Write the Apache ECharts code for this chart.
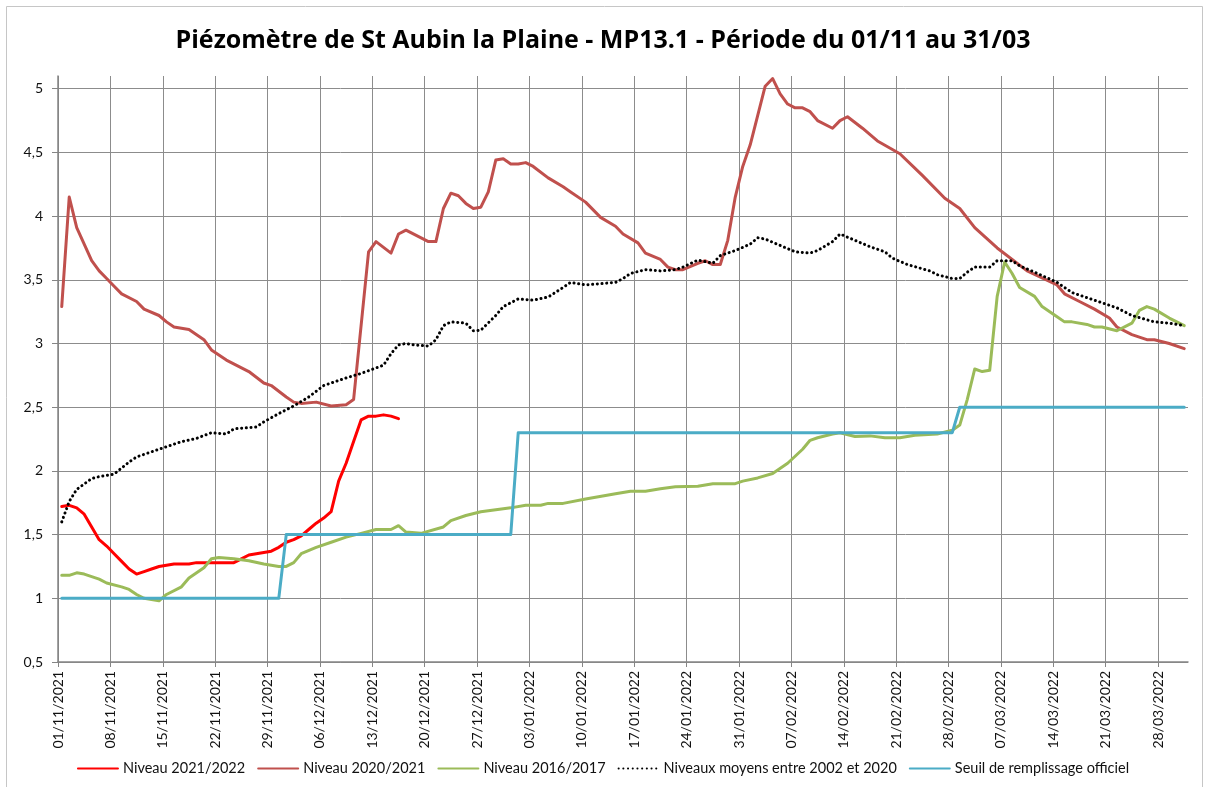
<!DOCTYPE html>
<html>
<head>
<meta charset="utf-8">
<title>Piézomètre de St Aubin la Plaine</title>
<script src="https://cdn.jsdelivr.net/npm/echarts@6.0.0/dist/echarts.min.js"></script>
<style>
  html, body { margin: 0; padding: 0; background: #fff; }
  #chart { width: 1206px; height: 787px; }
</style>
</head>
<body>
<div id="chart"></div>
<script>
// jours comptés depuis le 01/11 (0 = 01/11, 150 = 31/03)
const tickLabels = ['01/11/2021', '08/11/2021', '15/11/2021', '22/11/2021', '29/11/2021', '06/12/2021',
  '13/12/2021', '20/12/2021', '27/12/2021', '03/01/2022', '10/01/2022', '17/01/2022', '24/01/2022',
  '31/01/2022', '07/02/2022', '14/02/2022', '21/02/2022', '28/02/2022', '07/03/2022', '14/03/2022',
  '21/03/2022', '28/03/2022'];

const seriesNames = ['Niveau 2021/2022', 'Niveau 2020/2021', 'Niveau 2016/2017',
  'Niveaux moyens entre 2002 et 2020', 'Seuil de remplissage officiel'];

const days2122 = [0, 1, 2, 3, 4, 5, 6, 7, 8, 9, 10, 11, 12, 13, 14, 15, 17, 18, 23, 24, 25, 26, 27, 28, 29,
  30, 31, 32, 33, 34, 35, 36, 37, 38, 39, 40, 41, 42, 43, 44, 45];
const vals2122 = [1.72, 1.73, 1.71, 1.66, 1.56, 1.46, 1.41, 1.35, 1.29, 1.23, 1.19, 1.21, 1.23, 1.25, 1.26, 1.27,
  1.27, 1.28, 1.28, 1.31, 1.34, 1.35, 1.36, 1.37, 1.40, 1.44, 1.46, 1.49, 1.54, 1.59, 1.63, 1.68, 1.92, 2.06,
  2.23, 2.40, 2.43, 2.43, 2.44, 2.43, 2.41];

const days2021 = [0, 1, 2, 3, 4, 5, 6, 7, 8, 10, 11, 13, 14, 15, 17, 19, 20, 22, 25, 27, 28, 30, 31, 32, 34, 36,
  38, 39, 41, 42, 44, 45, 46, 49, 50, 51, 52, 53, 54, 55, 56, 57, 58, 59, 60, 61, 62, 63, 65, 67, 68, 70, 72,
  74, 75, 77, 78, 80, 81, 82, 83, 85, 86, 87, 88, 89, 90, 91, 92, 94, 95, 96, 97, 98, 99, 100, 101, 103, 104,
  105, 107, 109, 112, 115, 118, 120, 122, 125, 129, 133, 134, 136, 138, 140, 141, 143, 145, 146, 148, 150];
const vals2021 = [3.29, 4.15, 3.91, 3.78, 3.65, 3.57, 3.51, 3.45, 3.39, 3.33, 3.27, 3.22, 3.17, 3.13, 3.11,
  3.03, 2.95, 2.87, 2.78, 2.69, 2.67, 2.58, 2.54, 2.53, 2.54, 2.51, 2.52, 2.56, 3.72, 3.80, 3.71, 3.86, 3.89,
  3.80, 3.80, 4.06, 4.18, 4.16, 4.10, 4.06, 4.07, 4.19, 4.44, 4.45, 4.41, 4.41, 4.42, 4.39, 4.30, 4.23, 4.19,
  4.11, 3.99, 3.92, 3.86, 3.79, 3.71, 3.66, 3.60, 3.58, 3.58, 3.63, 3.65, 3.62, 3.62, 3.81, 4.15, 4.39, 4.56,
  5.02, 5.08, 4.96, 4.88, 4.85, 4.85, 4.82, 4.75, 4.69, 4.75, 4.78, 4.69, 4.59, 4.49, 4.32, 4.14, 4.06, 3.91,
  3.75, 3.57, 3.46, 3.39, 3.33, 3.27, 3.20, 3.13, 3.07, 3.03, 3.03, 3.00, 2.96];

const days1617 = [0, 1, 2, 3, 5, 6, 8, 9, 10, 11, 13, 14, 16, 17, 19, 20, 21, 23, 25, 27, 29, 30, 31, 32, 34,
  36, 38, 40, 42, 44, 45, 46, 48, 51, 52, 54, 56, 60, 62, 64, 65, 67, 70, 74, 76, 78, 80, 82, 85, 87, 90, 91,
  93, 95, 97, 99, 100, 101, 103, 104, 106, 108, 110, 112, 114, 117, 119, 120, 121, 122, 123, 124, 125, 126,
  127, 128, 130, 131, 133, 134, 135, 137, 138, 139, 141, 143, 144, 145, 146, 148, 150];
const vals1617 = [1.18, 1.18, 1.20, 1.19, 1.15, 1.12, 1.09, 1.07, 1.03, 1.00, 0.98, 1.03, 1.09, 1.16, 1.24,
  1.31, 1.32, 1.31, 1.295, 1.27, 1.25, 1.25, 1.28, 1.35, 1.40, 1.44, 1.48, 1.51, 1.54, 1.54, 1.57, 1.52, 1.51,
  1.56, 1.61, 1.65, 1.68, 1.71, 1.73, 1.73, 1.745, 1.745, 1.78, 1.82, 1.84, 1.84, 1.86, 1.875, 1.88, 1.90,
  1.90, 1.92, 1.945, 1.98, 2.06, 2.17, 2.24, 2.26, 2.29, 2.30, 2.27, 2.275, 2.26, 2.26, 2.28, 2.29, 2.32,
  2.36, 2.56, 2.80, 2.78, 2.79, 3.37, 3.64, 3.55, 3.44, 3.37, 3.29, 3.21, 3.17, 3.17, 3.15, 3.13, 3.13, 3.10,
  3.16, 3.26, 3.29, 3.27, 3.20, 3.14];

const daysMoy = [0, 1, 2, 4, 5, 7, 9, 10, 12, 14, 16, 18, 20, 22, 23, 26, 27, 29, 31, 33, 35, 38, 40, 43, 44,
  45, 46, 47, 49, 50, 51, 52, 54, 55, 56, 58, 59, 61, 63, 65, 67, 68, 70, 72, 74, 75, 76, 78, 80, 82, 83, 85,
  87, 88, 90, 92, 93, 94, 96, 98, 100, 101, 103, 104, 106, 108, 110, 111, 113, 116, 117, 119, 120, 121, 122,
  124, 125, 127, 128, 130, 133, 135, 138, 141, 143, 146, 148, 150];
const valsMoy = [1.60, 1.76, 1.855, 1.94, 1.955, 1.975, 2.07, 2.11, 2.15, 2.19, 2.23, 2.255, 2.30, 2.29, 2.33,
  2.345, 2.385, 2.45, 2.51, 2.58, 2.67, 2.73, 2.765, 2.83, 2.92, 2.99, 3.00, 2.99, 2.98, 3.03, 3.14, 3.17,
  3.16, 3.10, 3.105, 3.22, 3.29, 3.35, 3.34, 3.365, 3.44, 3.48, 3.46, 3.47, 3.48, 3.51, 3.55, 3.58, 3.57,
  3.58, 3.60, 3.655, 3.63, 3.69, 3.73, 3.78, 3.83, 3.82, 3.77, 3.72, 3.71, 3.73, 3.80, 3.86, 3.81, 3.76,
  3.72, 3.67, 3.62, 3.57, 3.54, 3.51, 3.51, 3.56, 3.60, 3.60, 3.65, 3.65, 3.61, 3.56, 3.48, 3.40, 3.34,
  3.28, 3.22, 3.17, 3.16, 3.14];

const daysSeuil = [0, 29, 30, 60, 61, 119, 120, 150];
const valsSeuil = [1.0, 1.0, 1.5, 1.5, 2.3, 2.3, 2.5, 2.5];

const colors = ['#FF0000', '#C0504D', '#9BBB59', '#000000', '#4BACC6'];
const FONT = 'Lato, "Open Sans", sans-serif';

// point du jour placé au milieu de sa case (axe "entre les graduations")
const toPairs = (days, vals) => days.map((d, i) => [d + 0.5, vals[i]]);

const chart = echarts.init(document.getElementById('chart'), null, { renderer: 'canvas' });

const lineSeries = (idx, days, vals, extra) => Object.assign({
  name: seriesNames[idx],
  type: 'line',
  data: toPairs(days, vals),
  symbol: 'none',
  smooth: false,
  animation: false,
  lineStyle: { color: colors[idx], width: 3, cap: 'round', join: 'round' },
  itemStyle: { color: colors[idx] }
}, extra || {});

const option = {
  backgroundColor: '#fff',
  animation: false,
  title: {
    text: 'Piézomètre de St Aubin la Plaine - MP13.1 - Période du 01/11 au 31/03',
    left: 'center',
    top: 23,
    textStyle: { fontFamily: '"Open Sans", Lato, sans-serif', fontSize: 25, fontWeight: 'bold', color: '#000' }
  },
  graphic: [{
    type: 'rect',
    shape: { x: 6.5, y: 6.5, width: 1196, height: 800 },
    style: { fill: 'none', stroke: '#c6c6c6', lineWidth: 1 },
    silent: true
  }],
  legend: {
    data: seriesNames,
    left: 'center',
    top: 756,
    itemWidth: 40,
    itemHeight: 14,
    itemGap: 12,
    itemStyle: { opacity: 0 }, // pas de rond au milieu du trait
    textStyle: { fontFamily: FONT, fontSize: 14.5, color: '#111' }
  },
  grid: { left: 58, right: 18, top: 76, bottom: 125, containLabel: false },
  xAxis: {
    type: 'value',
    min: 0,
    max: 151,
    interval: 7,
    axisLine: { show: true, lineStyle: { color: '#858585', width: 1.5 } },
    axisTick: { show: true, length: 5, lineStyle: { color: '#858585' } },
    splitLine: { show: true, showMaxLine: false, lineStyle: { color: '#8c8c8c', width: 1 } },
    axisLabel: {
      rotate: 90,
      margin: 9,
      showMaxLabel: false,
      fontFamily: FONT,
      fontSize: 14,
      color: '#111',
      formatter: (v) => (v % 7 === 0 ? tickLabels[v / 7] || '' : '')
    }
  },
  yAxis: {
    type: 'value',
    min: 0.5,
    max: 5.1,
    interval: 0.5,
    axisLine: { show: true, lineStyle: { color: '#858585', width: 1.5 } },
    axisTick: { show: true, length: 6, lineStyle: { color: '#858585' } },
    splitLine: { show: true, showMaxLine: false, lineStyle: { color: '#8c8c8c', width: 1 } },
    axisLabel: {
      margin: 15,
      showMaxLabel: false,
      fontFamily: FONT,
      fontSize: 14,
      color: '#111',
      formatter: (v) => String(v).replace('.', ',')
    }
  },
  series: [
    lineSeries(0, days2122, vals2122),
    lineSeries(1, days2021, vals2021),
    lineSeries(2, days1617, vals1617),
    lineSeries(3, daysMoy, valsMoy, {
      lineStyle: { color: '#000', width: 3, type: [0.1, 4.6], cap: 'round' }
    }),
    lineSeries(4, daysSeuil, valsSeuil)
  ]
};

chart.setOption(option);
</script>
</body>
</html>
